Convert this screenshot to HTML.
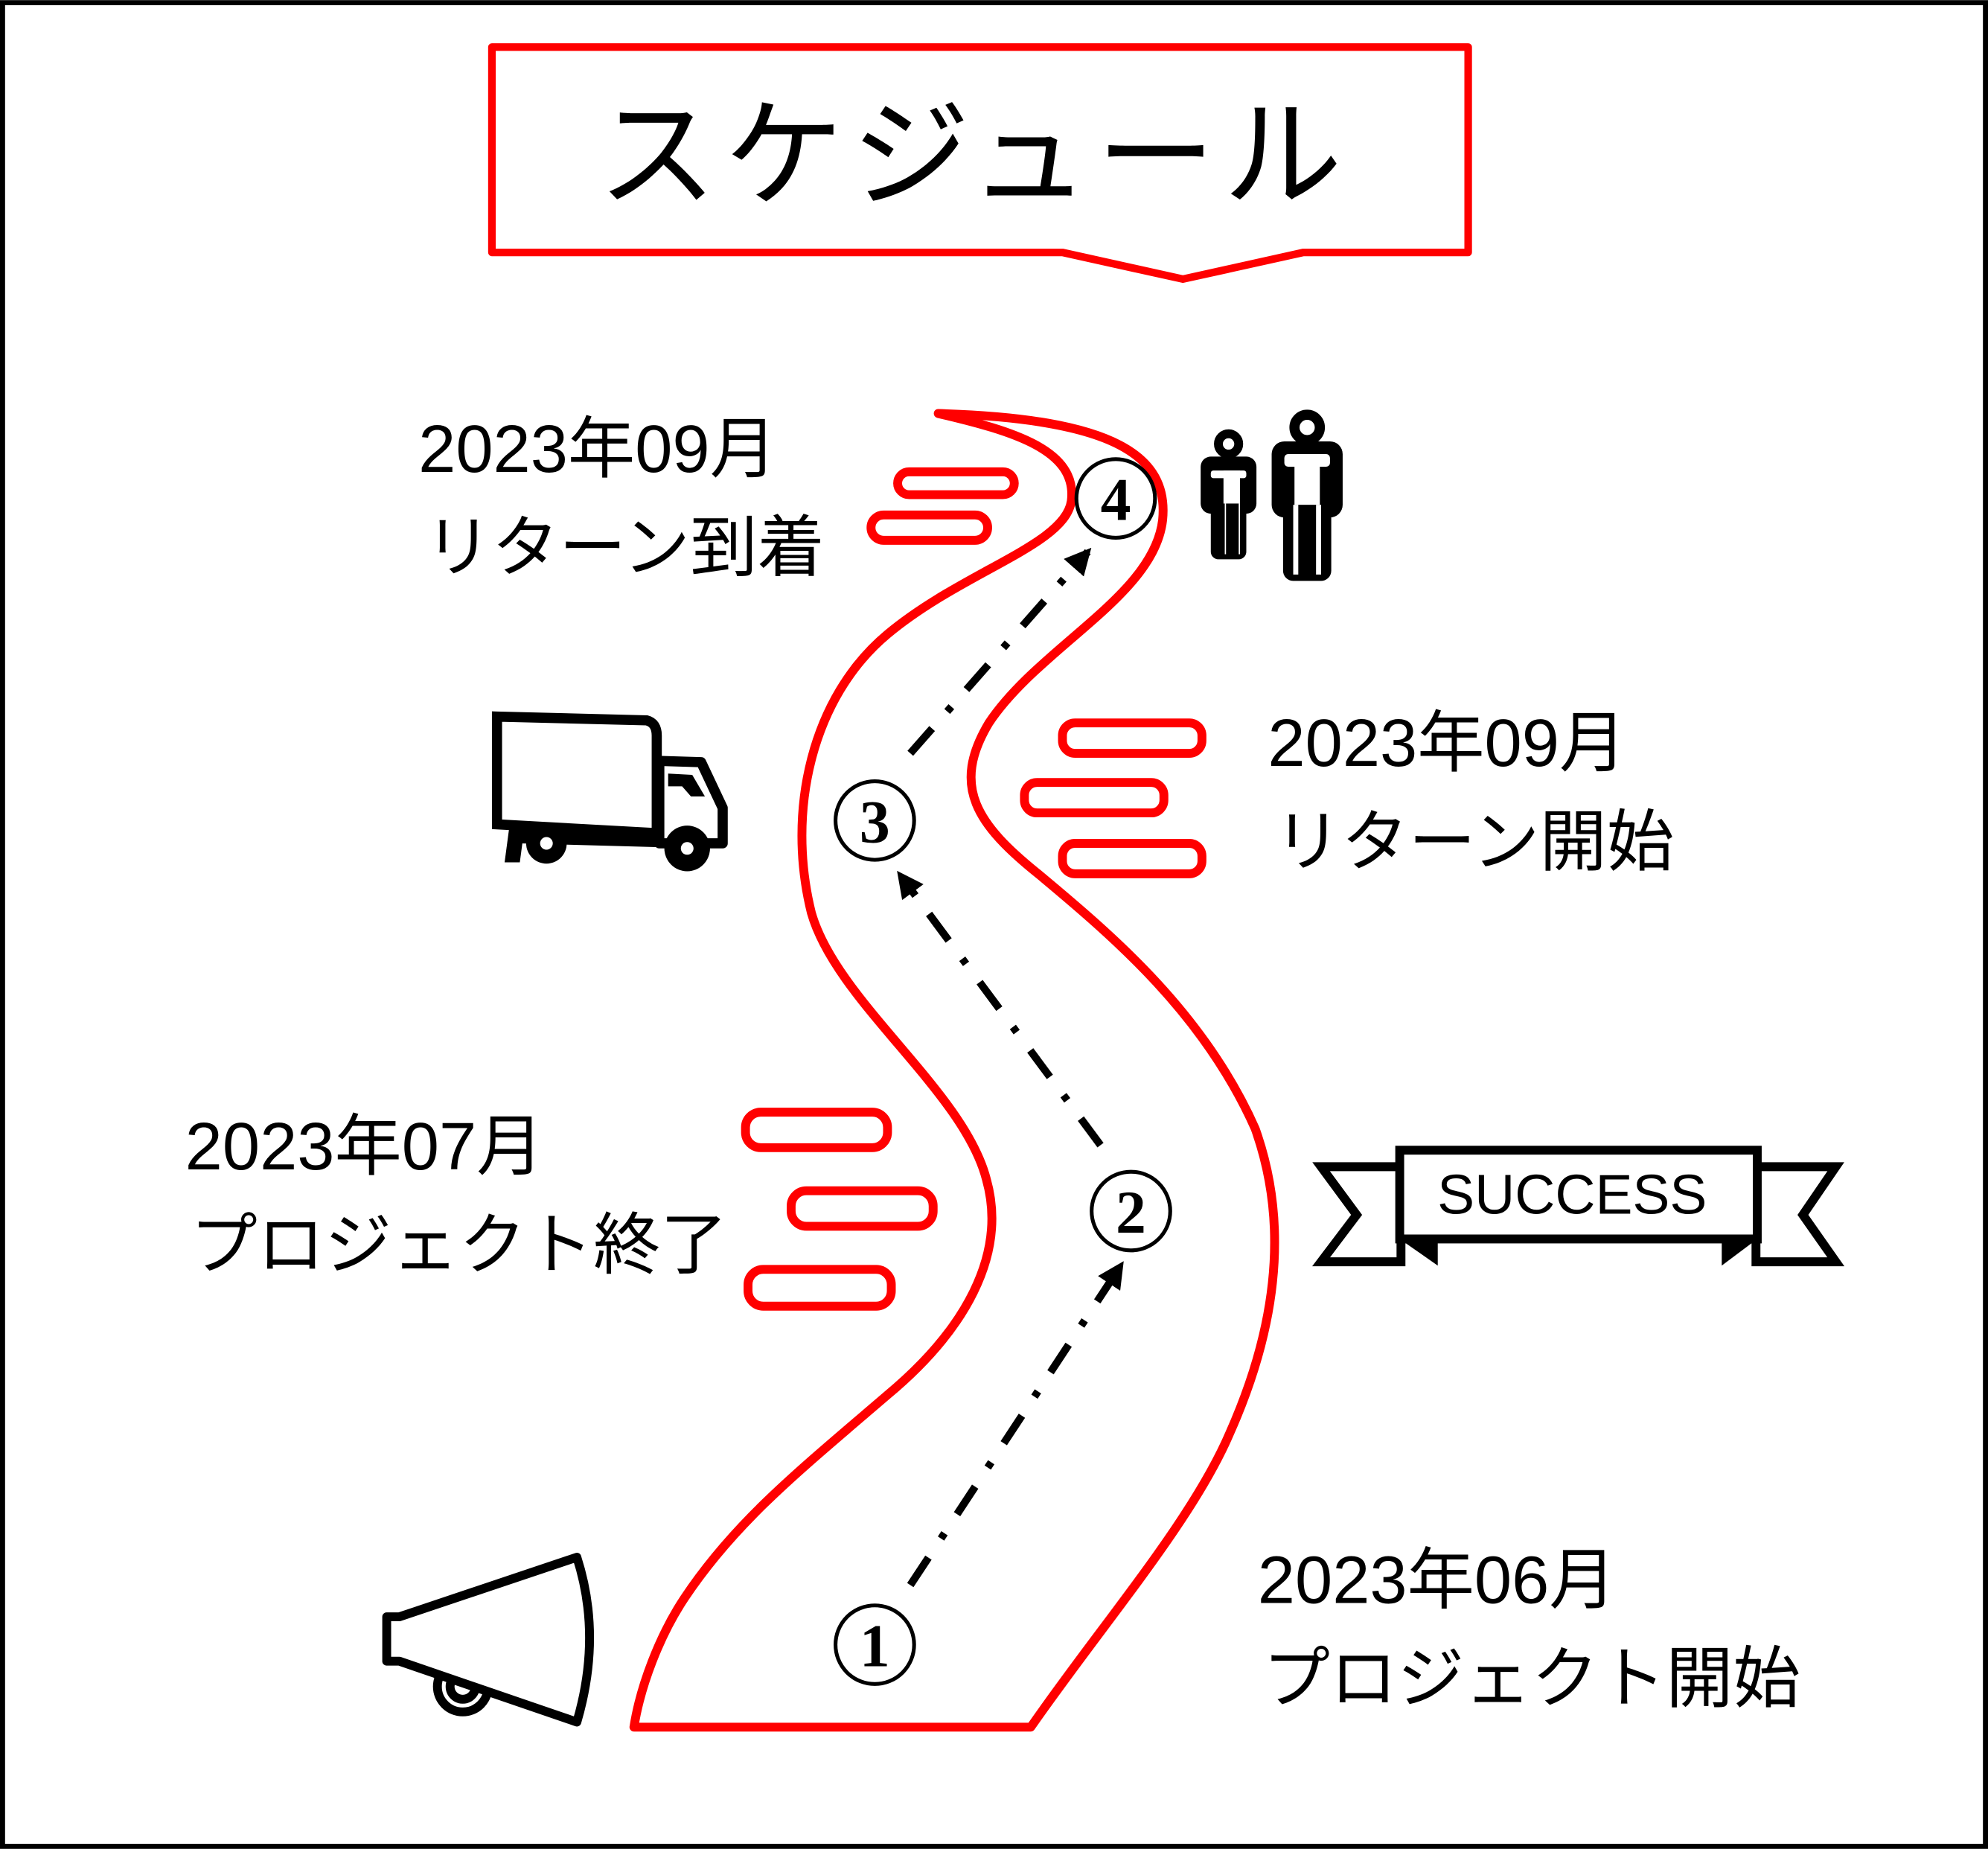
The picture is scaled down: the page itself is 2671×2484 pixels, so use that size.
<!DOCTYPE html>
<html><head><meta charset="utf-8"><style>
html,body{margin:0;padding:0;background:#fff;}
svg{display:block;}
text{font-family:"Liberation Sans","Noto Sans CJK JP",sans-serif;}
</style></head><body>
<svg width="2671" height="2484" viewBox="0 0 1568 1458" xmlns="http://www.w3.org/2000/svg">
<defs>
<marker id="ah" viewBox="0 0 10 10" refX="8" refY="5" markerWidth="3.5" markerHeight="3.5" orient="auto"><path d="M0,0 L10,5 L0,10 z" fill="#000"/></marker>
</defs>
<rect x="2" y="2" width="1564" height="1454" fill="#fff" stroke="#000" stroke-width="4"/>
<!-- title -->
<path d="M388,37 H1158 V199 H1028 L933,220 L838,199 H388 Z" fill="#fff" stroke="#f00" stroke-width="6" stroke-linejoin="round"/>
<text x="768" y="155" font-size="94" letter-spacing="6" text-anchor="middle">スケジュール</text>
<!-- road -->
<path d="M500,1362 H813 C870,1280 940,1200 970,1130 C1010,1040 1015,960 990,890 C950,800 880,740 820,690 C770,650 750,620 780,570 C820,510 910,470 917,410 C922,360 880,330 740,326 C800,340 850,355 845,395 C840,430 760,450 700,500 C640,550 620,640 640,720 C660,790 760,860 778,930 C795,990 760,1050 700,1100 C630,1160 580,1200 540,1260 C520,1290 505,1330 500,1362 Z" fill="#fff" stroke="#f00" stroke-width="7" stroke-linejoin="round"/>
<!-- red bars -->
<g fill="#fff" stroke="#f00" stroke-width="7">
<rect x="708" y="372" width="92" height="18" rx="9"/>
<rect x="687" y="406" width="92" height="20" rx="10"/>
<rect x="838" y="570" width="110" height="24" rx="10"/>
<rect x="808" y="617" width="110" height="24" rx="10"/>
<rect x="838" y="665" width="110" height="24" rx="10"/>
<rect x="588" y="877" width="112" height="28" rx="12"/>
<rect x="624" y="939" width="112" height="28" rx="12"/>
<rect x="590" y="1001" width="113" height="29" rx="12"/>
</g>
<!-- dash-dot arrows -->
<g stroke="#000" stroke-width="6" fill="none" stroke-dasharray="26,18,5,18" marker-end="url(#ah)">
<line x1="718" y1="1250" x2="884" y2="998"/>
<line x1="868" y1="903" x2="710" y2="690"/>
<line x1="718" y1="594" x2="858" y2="435"/>
</g>
<!-- numbered circles -->
<g fill="#fff" stroke="#000" stroke-width="3">
<circle cx="690" cy="1297" r="31"/><circle cx="892" cy="955" r="31"/>
<circle cx="690" cy="647" r="31"/><circle cx="880" cy="393" r="31"/>
</g>
<g font-size="48" font-weight="bold" text-anchor="middle">
<text x="690" y="1314" style="font-family:'Liberation Serif',serif">1</text>
<text x="892" y="972" style="font-family:'Liberation Serif',serif">2</text>
<text x="690" y="664" style="font-family:'Liberation Serif',serif">3</text>
<text x="880" y="410" style="font-family:'Liberation Serif',serif">4</text>
</g>
<!-- labels -->
<g font-size="53">
<text x="330" y="372">2023年09月</text>
<text x="335" y="450">リターン到着</text>
<text x="1000" y="604">2023年09月</text>
<text x="1005" y="682">リターン開始</text>
<text x="146" y="922">2023年07月</text>
<text x="150" y="1000">プロジェクト終了</text>
<text x="992" y="1264">2023年06月</text>
<text x="996" y="1342">プロジェクト開始</text>
</g>
<!-- people -->
<g fill="#000">
<circle cx="969" cy="350" r="8" fill="none" stroke="#000" stroke-width="7"/>
<rect x="947" y="360" width="44" height="45" rx="8"/>
<rect x="955" y="395" width="28" height="46" rx="6"/>
<circle cx="1031" cy="337" r="10" fill="none" stroke="#000" stroke-width="8"/>
<rect x="1003" y="348" width="56" height="60" rx="10"/>
<rect x="1012" y="395" width="38" height="63" rx="8"/>
</g>
<g fill="#fff">
<rect x="955" y="371" width="28" height="6" rx="2"/><rect x="965" y="371" width="13" height="26"/>
<rect x="966" y="397" width="1" height="40"/><rect x="977" y="397" width="1" height="40"/>
<rect x="1013" y="358" width="36" height="10" rx="3"/><rect x="1021" y="358" width="20" height="40"/>
<rect x="1020" y="398" width="4" height="55"/><rect x="1038" y="398" width="4" height="55"/>
</g>
<!-- truck -->
<g>
<path d="M392,565 L510,568 Q518,570 518,580 L518,657 L392,650 Z" fill="#fff" stroke="#000" stroke-width="8"/>
<path d="M520,600 L553,601 L570,637 L570,665 L520,665 Z" fill="#fff" stroke="#000" stroke-width="8" stroke-linejoin="round"/>
<path d="M527,610 L546,611 L556,628 L545,628 L538,620 L527,620 Z" fill="#000"/>
<path d="M404,650 L520,655 L520,668 L410,665 Z" fill="#000"/>
<path d="M402,650 L414,650 L410,680 L398,680 Z" fill="#000"/>
<circle cx="431" cy="665" r="16" fill="#000"/><circle cx="431" cy="665" r="5" fill="#fff"/>
<circle cx="542" cy="669" r="18" fill="#000"/><circle cx="542" cy="669" r="5" fill="#fff"/>
</g>
<!-- SUCCESS banner -->
<g stroke="#000" stroke-width="7" stroke-linejoin="miter" fill="#fff">
<path d="M1042,920 H1105 V995 H1042 L1070,958 Z"/>
<path d="M1448,920 H1385 V995 H1448 L1422,958 Z"/>
<rect x="1104" y="907" width="282" height="70"/>
</g>
<path d="M1104,977 L1134,977 L1134,998 Z" fill="#000"/>
<path d="M1386,977 L1358,977 L1358,998 Z" fill="#000"/>
<text x="1240" y="957" font-size="44" text-anchor="middle">SUCCESS</text>
<!-- megaphone -->
<g stroke="#000" stroke-width="7" fill="#fff" stroke-linejoin="round">
<circle cx="365" cy="1330" r="20"/>
<circle cx="365" cy="1330" r="10" fill="#fff"/>
<path d="M305,1275 L315,1275 L455,1228 Q475,1290 455,1358 L315,1310 L305,1310 Z"/>
</g>
</svg>
</body></html>
